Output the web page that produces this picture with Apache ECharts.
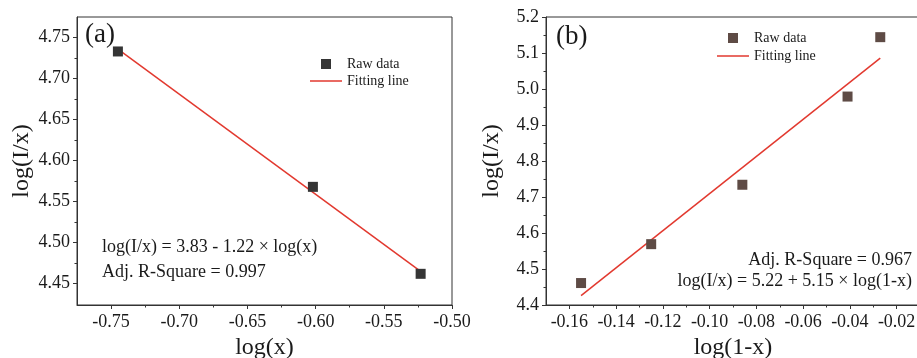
<!DOCTYPE html>
<html>
<head>
<meta charset="utf-8">
<script src="https://cdn.jsdelivr.net/npm/echarts@6/dist/echarts.min.js"></script>
<style>
  html, body { margin: 0; padding: 0; background: #fff; }
  #chart { width: 917px; height: 358px; }
</style>
</head>
<body>
<div id="chart"></div>
<script>
// panel (a): log(I/x) vs log(x)
const rawXA = [-0.745, -0.602, -0.523]
const rawYA = [4.733, 4.568, 4.462]
const fitXA = [-0.746, -0.523]
const fitYA = [4.737, 4.465]
// panel (b): log(I/x) vs log(1-x)
const rawXB = [-0.155, -0.125, -0.086, -0.041, -0.027]
const rawYB = [4.461, 4.569, 4.734, 4.979, 5.144]
const fitXB = [-0.155, -0.027]
const fitYB = [4.426, 5.086]

// tick positions
const xTicksA = [-0.75, -0.70, -0.65, -0.60, -0.55, -0.50]
const xMinorA = [-0.725, -0.675, -0.625, -0.575, -0.525]
const yTicksA = [4.45, 4.50, 4.55, 4.60, 4.65, 4.70, 4.75]
const yMinorA = [4.475, 4.525, 4.575, 4.625, 4.675, 4.725]
const xTicksB = [-0.16, -0.14, -0.12, -0.10, -0.08, -0.06, -0.04, -0.02]
const xMinorB = [-0.15, -0.13, -0.11, -0.09, -0.07, -0.05, -0.03]
const yTicksB = [4.4, 4.5, 4.6, 4.7, 4.8, 4.9, 5.0, 5.1, 5.2]
const yMinorB = [4.45, 4.55, 4.65, 4.75, 4.85, 4.95, 5.05, 5.15]

const font = "'Liberation Serif', 'Times New Roman', serif"
const ink = '#1a1a1a'
const axisColor = '#333'
const red = '#e2392f'
// small icons for the legend (keep aspect: square marker, thin line)
const squareIcon = 'path://M0,0 L10,0 L10,10 L0,10 Z'
const lineIcon = 'path://M0,0 L64,0 L64,3 L0,3 Z'

const zip = (xs, ys) => xs.map((x, i) => [x, ys[i]])

const mainAxis = (grid, min, max, ticks, digits, name, gap, pos) => ({
  gridIndex: grid,
  type: 'value',
  position: pos,
  min, max,
  name,
  nameLocation: 'middle',
  nameGap: gap,
  nameTextStyle: { fontFamily: font, fontSize: 24, color: ink },
  axisLine: { show: true, onZero: false, lineStyle: { color: axisColor, width: 1 } },
  axisTick: { show: true, inside: false, length: 4, customValues: ticks, lineStyle: { color: axisColor } },
  axisLabel: {
    customValues: ticks,
    margin: pos === 'left' ? 7 : 8,
    fontFamily: font, fontSize: 18, color: ink,
    formatter: v => v.toFixed(digits)
  },
  splitLine: { show: false }
})

const minorAxis = (grid, min, max, ticks, pos) => ({
  gridIndex: grid,
  type: 'value',
  position: pos,
  min, max,
  axisLine: { show: false, onZero: false },
  axisTick: { show: true, inside: false, length: 2.5, customValues: ticks, lineStyle: { color: axisColor } },
  axisLabel: { show: false },
  splitLine: { show: false }
})

const chart = echarts.init(document.getElementById('chart'))

chart.setOption({
  animation: false,
  backgroundColor: '#fff',
  grid: [
    { left: 77, top: 17, width: 375, height: 288, outerBoundsMode: 'none', containLabel: false,
      show: true, borderColor: axisColor, borderWidth: 1 },
    { left: 546, top: 17, width: 374, height: 288, outerBoundsMode: 'none', containLabel: false,
      show: true, borderColor: axisColor, borderWidth: 1 }
  ],
  xAxis: [
    mainAxis(0, -0.775, -0.5, xTicksA, 2, 'log(x)', 27, 'bottom'),
    minorAxis(0, -0.775, -0.5, xMinorA, 'bottom'),
    mainAxis(1, -0.17, -0.01, xTicksB, 2, 'log(1-x)', 27, 'bottom'),
    minorAxis(1, -0.17, -0.01, xMinorB, 'bottom')
  ],
  yAxis: [
    mainAxis(0, 4.424, 4.775, yTicksA, 2, 'log(I/x)', 43, 'left'),
    minorAxis(0, 4.424, 4.775, yMinorA, 'left'),
    mainAxis(1, 4.4, 5.2, yTicksB, 1, 'log(I/x)', 42, 'left'),
    minorAxis(1, 4.4, 5.2, yMinorB, 'left')
  ],
  legend: [
    {
      data: [{ name: 'Raw data', icon: squareIcon }, { name: 'Fitting line', icon: lineIcon }],
      orient: 'vertical',
      left: 305, top: 52,
      itemWidth: 32, itemHeight: 10, itemGap: 3,
      textStyle: { fontFamily: font, fontSize: 14, color: ink, lineHeight: 14 }
    },
    {
      data: [{ name: 'Raw data (b)', icon: squareIcon }, { name: 'Fitting line (b)', icon: lineIcon }],
      orient: 'vertical',
      left: 712, top: 26,
      itemWidth: 32, itemHeight: 10, itemGap: 4,
      formatter: n => n.replace(' (b)', ''),
      textStyle: { fontFamily: font, fontSize: 14, color: ink, lineHeight: 14 }
    }
  ],
  series: [
    {
      name: 'Fitting line', type: 'line', xAxisIndex: 0, yAxisIndex: 0,
      data: zip(fitXA, fitYA), symbol: 'none',
      lineStyle: { color: red, width: 1.5 }, itemStyle: { color: red }
    },
    {
      name: 'Raw data', type: 'scatter', xAxisIndex: 0, yAxisIndex: 0,
      data: zip(rawXA, rawYA), symbol: 'rect', symbolSize: 10,
      itemStyle: { color: '#353535', opacity: 1 }, z: 3
    },
    {
      name: 'Fitting line (b)', type: 'line', xAxisIndex: 2, yAxisIndex: 2,
      data: zip(fitXB, fitYB), symbol: 'none',
      lineStyle: { color: red, width: 1.5 }, itemStyle: { color: red }
    },
    {
      name: 'Raw data (b)', type: 'scatter', xAxisIndex: 2, yAxisIndex: 2,
      data: zip(rawXB, rawYB), symbol: 'rect', symbolSize: 10,
      itemStyle: { color: '#5e4b45', opacity: 1 }, z: 3
    }
  ],
  graphic: [
    { type: 'text', left: 85, top: 21, style: { text: '(a)', font: `27px ${font}`, fill: ink } },
    { type: 'text', left: 556, top: 23, style: { text: '(b)', font: `27px ${font}`, fill: ink } },
    { type: 'text', left: 102, top: 238, style: { text: 'log(I/x) = 3.83 - 1.22 × log(x)', font: `18px ${font}`, fill: ink } },
    { type: 'text', left: 102, top: 263, style: { text: 'Adj. R-Square = 0.997', font: `18px ${font}`, fill: ink } },
    { type: 'text', right: 5, top: 251, style: { text: 'Adj. R-Square = 0.967', font: `18px ${font}`, fill: ink } },
    { type: 'text', right: 5, top: 272, style: { text: 'log(I/x) = 5.22 + 5.15 × log(1-x)', font: `18px ${font}`, fill: ink } }
  ]
})
</script>
</body>
</html>
